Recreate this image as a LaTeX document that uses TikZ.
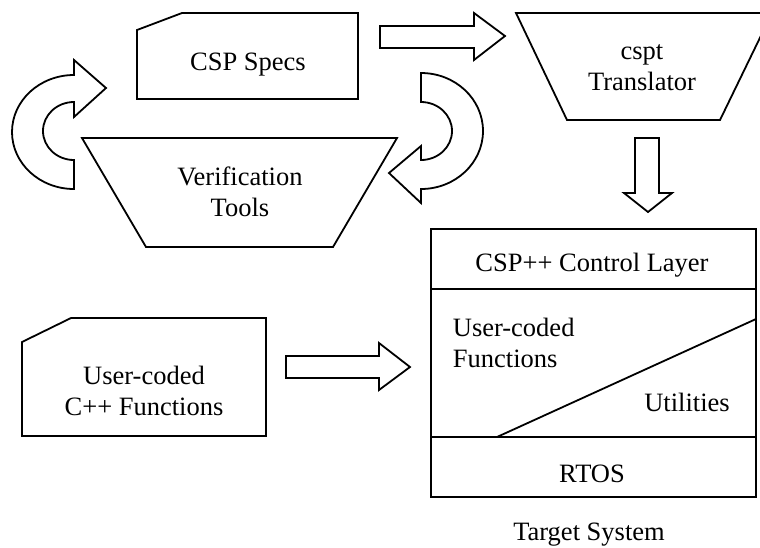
\documentclass[tikz,border=0pt]{standalone}
\usepackage{fontspec}
\setmainfont{Liberation Serif}
\begin{document}
\begin{tikzpicture}[x=0.5pt,y=-0.5pt,line width=0.9pt,
    every node/.style={font=\fontsize{13.25}{15.5}\selectfont,align=center,inner sep=0pt}]
      \useasboundingbox (0,0) rectangle (760,547);
      \clip (0,0) rectangle (760,547);
      % outlines
      \draw (137,30) -- (182,13) -- (358,13) -- (358,99) -- (137,99) -- cycle;
      \draw (82,138) -- (397,138) -- (333,247) -- (146,247) -- cycle;
      \draw (516,13) -- (772,13) -- (720,120) -- (567,120) -- cycle;
      \draw (22,342) -- (71,318) -- (266,318) -- (266,436) -- (22,436) -- cycle;
      \draw (431,229) rectangle (756,497);
      \draw (431,289) -- (756,289);
      \draw (431,437) -- (756,437);
      \draw (497,437) -- (756,319);
      % texts
      \draw
        (248,65) node (specs){CSP Specs}
        (240,192) node (verif){Verification\\Tools}
        (642,68) node (cspt){cspt\\Translator}
        (144,391) node (cppfun){User-coded\\C++ Functions}
        (592,265) node (ctrl){CSP++ Control Layer}
        (452,343) node[anchor=west,align=left] (userfun){User-coded\\Functions}
        (687,402) node (util){Utilities}
        (592,474) node (rtos){RTOS}
        (589,535) node (target){Target System};
      % block arrows
      \draw (380,26) -- (474,26) -- (474,13) -- (505,36) -- (474,60) -- (474,48) -- (380,48) -- cycle;
      \draw (635,138) -- (659,138) -- (659,193) -- (672,193) -- (648,212) -- (624,193) -- (635,193) -- cycle;
      \draw (286,356) -- (379,356) -- (379,343) -- (410,367) -- (379,390) -- (379,378) -- (286,378) -- cycle;
      % round arrows
      \draw (74,189) arc[start angle=90,end angle=270,x radius=62,y radius=57]
        -- (74,60) -- (106,88) -- (74,117) -- (74,102)
        arc[start angle=270,end angle=90,x radius=31,y radius=29] -- cycle;
      \draw (421,73) arc[start angle=270,end angle=450,x radius=62,y radius=58]
        -- (421,203) -- (389,173) -- (421,146) -- (421,160)
        arc[start angle=90,end angle=-90,x radius=31,y radius=29] -- cycle;
    \end{tikzpicture}
\end{document}
